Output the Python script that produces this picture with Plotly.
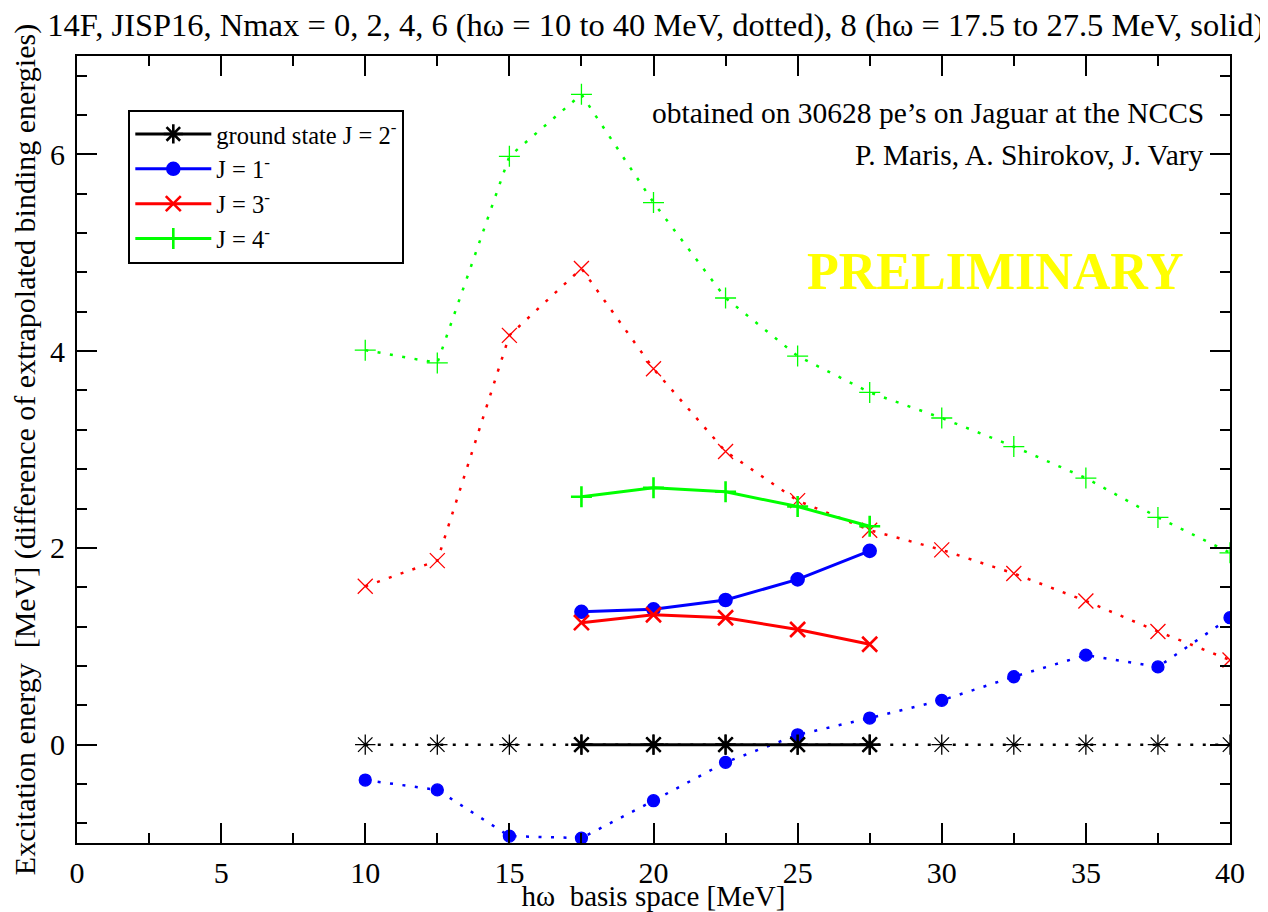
import plotly.graph_objects as go

# ---- data ----
hw_all = [10, 12.5, 15, 17.5, 20, 22.5, 25, 27.5, 30, 32.5, 35, 37.5, 40]
hw_n8 = [17.5, 20, 22.5, 25, 27.5]

gs_dot = [0, 0, 0, 0, 0, 0, 0, 0, 0, 0, 0, 0, 0]
j1_dot = [-0.36, -0.46, -0.93, -0.95, -0.57, -0.18, 0.10, 0.27, 0.45, 0.69, 0.91, 0.79, 1.29]
j3_dot = [1.61, 1.87, 4.16, 4.84, 3.82, 2.98, 2.48, 2.18, 1.98, 1.74, 1.46, 1.15, 0.86]
j4_dot = [4.01, 3.88, 5.98, 6.61, 5.51, 4.54, 3.95, 3.58, 3.32, 3.03, 2.71, 2.31, 1.95]

gs_sol = [0, 0, 0, 0, 0]
j1_sol = [1.35, 1.375, 1.47, 1.68, 1.97]
j3_sol = [1.24, 1.32, 1.29, 1.17, 1.02]
j4_sol = [2.52, 2.61, 2.57, 2.42, 2.22]

names = ["ground state J = 2<sup>-</sup>", "J = 1<sup>-</sup>", "J = 3<sup>-</sup>", "J = 4<sup>-</sup>"]
colors = ["#000000", "#0000ff", "#ff0000", "#00ff00"]
symbols = ["asterisk-open", "circle", "x-thin-open", "cross-thin-open"]
sizes = [17, 12, 15, 15]

FONT = "Liberation Serif, Times New Roman, serif"

fig = go.Figure()

dotted = [gs_dot, j1_dot, j3_dot, j4_dot]
solid = [gs_sol, j1_sol, j3_sol, j4_sol]

for i in range(4):
    fig.add_trace(go.Scatter(
        x=hw_all, y=dotted[i], mode="lines+markers", showlegend=False,
        line=dict(color=colors[i], width=2.5, dash="3px,9.5px"),
        marker=dict(symbol=symbols[i], size=sizes[i], color=colors[i],
                    line=dict(color=colors[i], width=1.3)),
    ))

for i in range(4):
    fig.add_trace(go.Scatter(
        x=hw_n8, y=solid[i], mode="lines+markers", name=names[i],
        line=dict(color=colors[i], width=3),
        marker=dict(symbol=symbols[i], size=sizes[i], color=colors[i],
                    line=dict(color=colors[i], width=2.6)),
    ))

axis_common = dict(
    showline=True, linecolor="black", linewidth=2, mirror="allticks",
    ticks="inside", ticklen=20, tickwidth=2, tickcolor="black",
    showgrid=False, zeroline=False,
    tickfont=dict(family=FONT, size=30, color="black"),
)

fig.update_layout(
    width=1260, height=904,
    margin=dict(l=69, r=38, t=48, b=69, autoexpand=False),
    paper_bgcolor="white", plot_bgcolor="white",
    font=dict(family=FONT, color="black"),
    title=dict(text="14F, JISP16, Nmax = 0, 2, 4, 6 (hω = 10 to 40 MeV, dotted), 8 (hω = 17.5 to 27.5 MeV, solid)",
               xref="paper", x=0.502, xanchor="center", yref="container", y=0.982, yanchor="middle",
               font=dict(family=FONT, size=32.5, color="black")),
    xaxis=dict(range=[0, 40], dtick=5, tick0=0,
               minor=dict(dtick=2.5, ticks="inside", ticklen=10, tickwidth=2, tickcolor="black"),
               title=dict(text="hω&nbsp;&nbsp;basis space [MeV]", standoff=4,
                          font=dict(family=FONT, size=29, color="black")),
               ticklabelstandoff=2,
               **axis_common),
    yaxis=dict(range=[-1, 7], dtick=2, tick0=0,
               minor=dict(dtick=0.4, ticks="inside", ticklen=10, tickwidth=2, tickcolor="black"),
               title=dict(text="Excitation energy&nbsp;&nbsp;[MeV] (difference of extrapolated binding energies)",
                          standoff=12, font=dict(family=FONT, size=30, color="black")),
               ticklabelstandoff=4,
               **axis_common),
    legend=dict(x=0.0445, y=0.932, xanchor="left", yanchor="top",
                bgcolor="white", bordercolor="black", borderwidth=2,
                font=dict(family=FONT, size=24.5, color="black"),
                itemwidth=76, tracegroupgap=0),
    annotations=[
        dict(text="obtained on 30628 pe’s on Jaguar at the NCCS", xref="paper", yref="paper",
             x=0.979, y=0.9276, xanchor="right", yanchor="middle", showarrow=False,
             font=dict(family=FONT, size=29.5, color="black")),
        dict(text="P. Maris, A. Shirokov, J. Vary", xref="paper", yref="paper",
             x=0.979, y=0.874, xanchor="right", yanchor="middle", showarrow=False,
             font=dict(family=FONT, size=29.5, color="black")),
        dict(text="<b>PRELIMINARY</b>", xref="paper", yref="paper",
             x=0.962, y=0.7256, xanchor="right", yanchor="middle", showarrow=False,
             font=dict(family=FONT, size=52, color="#ffff00")),
    ],
)

fig.write_html("out.html")
